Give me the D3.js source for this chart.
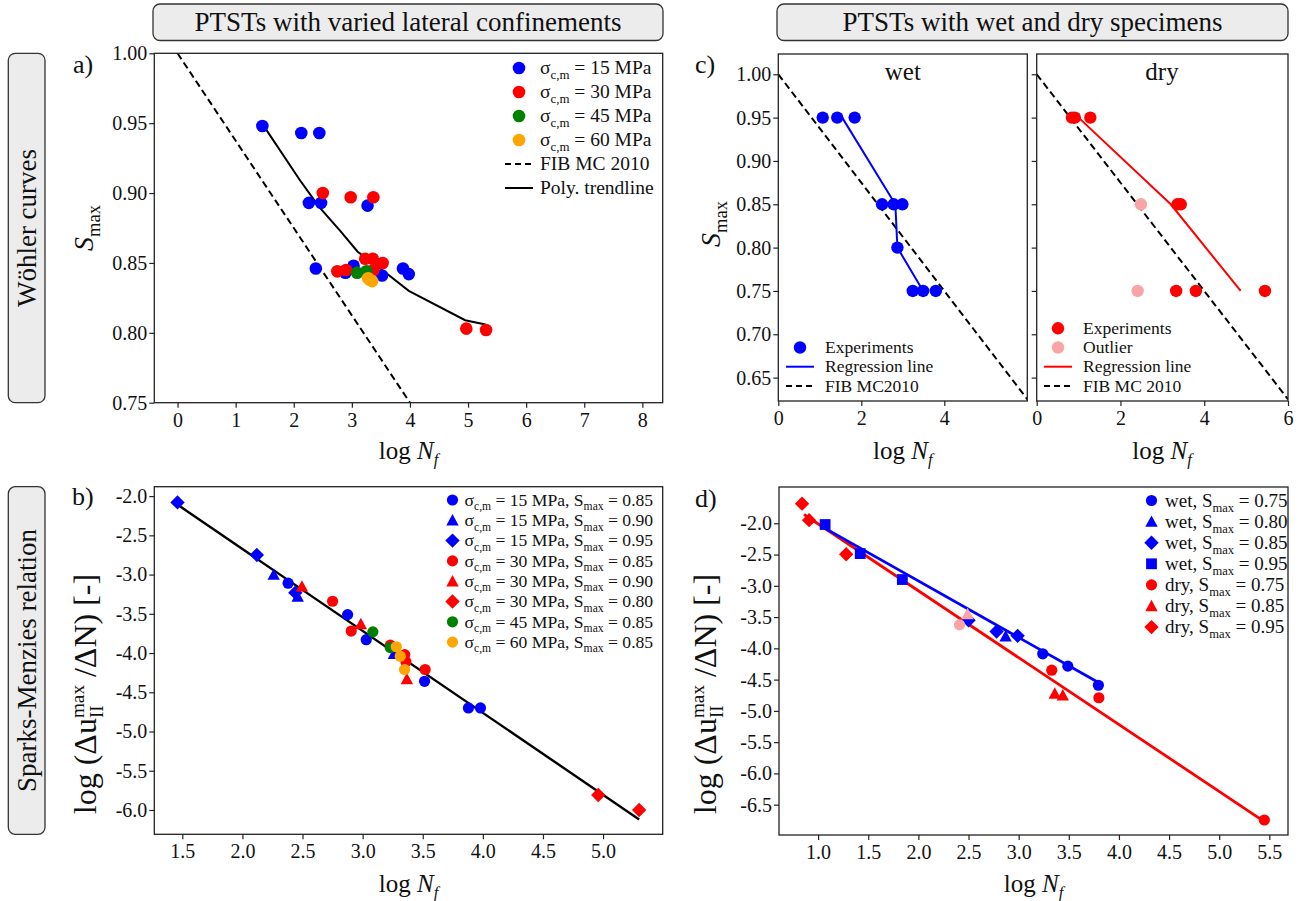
<!DOCTYPE html>
<html><head><meta charset="utf-8">
<script src="https://cdn.jsdelivr.net/npm/d3@7"></script>
<style>
html,body{margin:0;padding:0;background:#fff;}
svg{display:block;font-family:"Liberation Serif","Times New Roman",serif;}
text{white-space:pre;}
</style></head><body>
<svg id="fig" width="1301" height="901"></svg>
<script>
// ---------------- data ----------------
// (a) Wöhler curves, PTSTs with varied lateral confinement sigma_c,m
const a15LogN = [1.46, 2.13, 2.44, 2.26, 2.47, 3.27, 2.38, 2.89, 3.03, 3.52, 3.88, 3.98];
const a15S    = [0.948, 0.943, 0.943, 0.893, 0.893, 0.891, 0.846, 0.843, 0.848, 0.841, 0.846, 0.842];
const a30LogN = [2.50, 2.98, 3.37, 2.75, 2.90, 3.23, 3.36, 3.37, 3.53, 4.97, 5.31];
const a30S    = [0.900, 0.897, 0.897, 0.844, 0.845, 0.853, 0.853, 0.845, 0.850, 0.803, 0.802];
const a45LogN = [3.09, 3.25];
const a45S    = [0.843, 0.844];
const a60LogN = [3.28, 3.31, 3.35];
const a60S    = [0.839, 0.838, 0.837];
const trendLogN = [1.50, 2.11, 2.44, 2.80, 3.10, 3.43, 3.98, 4.95, 5.30];
const trendS    = [0.947, 0.909, 0.890, 0.873, 0.858, 0.848, 0.830, 0.809, 0.806];
const fibLogN = [0, 6];
const fibS    = [1.0, 0.625];

// (b) Sparks-Menzies relation, log(du/dN) vs log Nf
const b15s85N = [2.38, 2.875, 3.03, 3.515, 3.88, 3.98];
const b15s85R = [-3.11, -3.51, -3.83, -4.36, -4.70, -4.70];
const b15s90N = [2.26, 2.46, 3.26];
const b15s90R = [-3.00, -3.28, -4.01];
const b15s95N = [1.46, 2.12, 2.44];
const b15s95R = [-2.08, -2.75, -3.23];
const b30s85N = [2.75, 2.905, 3.23, 3.35, 3.36, 3.52];
const b30s85R = [-3.34, -3.72, -3.90, -4.02, -4.11, -4.21];
const b30s90N = [2.495, 2.985, 3.368];
const b30s90R = [-3.15, -3.63, -4.33];
const b30s80N = [4.96, 5.30];
const b30s80R = [-5.81, -6.00];
const b45s85N = [3.085, 3.23];
const b45s85R = [-3.73, -3.93];
const b60s85N = [3.28, 3.313, 3.349];
const b60s85R = [-3.92, -4.04, -4.21];
const bFitN = [1.48, 5.30];
const bFitR = [-2.13, -6.12];

// (c, d) wet and dry specimens
const wetS    = [0.95, 0.95, 0.95, 0.85, 0.85, 0.85, 0.80, 0.75, 0.75, 0.75];
const wetLogN = [1.07, 1.42, 1.84, 2.50, 2.78, 2.99, 2.87, 3.24, 3.49, 3.795];
const wetRate = [-2.02, -2.485, -2.90, -3.55, -3.73, -3.80, -3.805, -4.087, -4.285, -4.59];
const dryS    = [0.95, 0.95, 0.95, 0.85, 0.85, 0.75, 0.75, 0.75];
const dryLogN = [0.84, 0.91, 1.28, 3.36, 3.44, 3.33, 3.80, 5.45];
const dryRate = [-1.686, -1.95, -2.495, -4.72, -4.75, -4.35, -4.79, -6.745];
const outS    = [0.85, 0.75];
const outLogN = [2.49, 2.41];
const outRate = [-3.45, -3.624];
const wetRegLogN = [1.54, 2.82, 2.87, 3.49];
const wetRegS    = [0.95, 0.85, 0.80, 0.75];
const dryRegLogN = [1.00, 3.20, 4.87];
const dryRegS    = [0.95, 0.85, 0.75];
const wetFitN = [1.08, 3.80];
const wetFitR = [-2.09, -4.55];
const dryFitN = [0.86, 5.45];
const dryFitR = [-1.86, -6.77];

// marker shape per stress level in (d)
const shapeWet = {0.75: 'o', 0.80: '^', 0.85: 'D', 0.95: 's'};
const shapeDry = {0.75: 'o', 0.85: '^', 0.95: 'D'};

// tick values
const ticksA_x = [0, 1, 2, 3, 4, 5, 6, 7, 8];
const ticksA_y = [0.75, 0.80, 0.85, 0.90, 0.95, 1.00];
const ticksB_x = [1.5, 2.0, 2.5, 3.0, 3.5, 4.0, 4.5, 5.0];
const ticksB_y = [-2.0, -2.5, -3.0, -3.5, -4.0, -4.5, -5.0, -5.5, -6.0];
const ticksC_y = [0.65, 0.70, 0.75, 0.80, 0.85, 0.90, 0.95, 1.00];
const ticksCw_x = [0, 2, 4];
const ticksCd_x = [0, 2, 4, 6];
const ticksD_x = [1.0, 1.5, 2.0, 2.5, 3.0, 3.5, 4.0, 4.5, 5.0, 5.5];
const ticksD_y = [-2.0, -2.5, -3.0, -3.5, -4.0, -4.5, -5.0, -5.5, -6.0, -6.5];

const BLUE = '#0000ff', RED = '#ff0000', GREEN = '#008000', ORANGE = '#ffa500', PINK = '#f9a5a5';

// ---------------- drawing helpers ----------------
const svg = d3.select('#fig');
const defs = svg.append('defs');
const INK = '#222';
const fmt = (n) => (v) => d3.format('.' + n + 'f')(v).replace('−', '-');
let clipCount = 0;

function makePanel(box, xDom, yDom) {
  const x = d3.scaleLinear().domain(xDom).range([box.l, box.r]);
  const y = d3.scaleLinear().domain(yDom).range([box.b, box.t]);
  const id = 'clip' + (clipCount++);
  defs.append('clipPath').attr('id', id).append('rect')
    .attr('x', box.l).attr('y', box.t).attr('width', box.r - box.l).attr('height', box.b - box.t);
  const g = svg.append('g');
  const lines = g.append('g').attr('clip-path', `url(#${id})`);
  const marks = g.append('g');
  return {box, x, y, g, lines, marks};
}

function styleAxis(sel) {
  sel.attr('font-family', null).attr('font-size', 20);
  sel.select('.domain').remove();
  sel.selectAll('line').attr('stroke', INK).attr('stroke-width', 1.2);
  sel.selectAll('text').attr('fill', '#111');
}

function xAxis(p, ticks, f) {
  const ax = d3.axisBottom(p.x).tickValues(ticks).tickFormat(f).tickSizeInner(5).tickSizeOuter(0).tickPadding(5);
  p.g.append('g').attr('transform', `translate(0,${p.box.b})`).call(ax).call(styleAxis);
}
function yAxis(p, ticks, f) {
  const ax = d3.axisLeft(p.y).tickValues(ticks).tickFormat(f).tickSizeInner(5).tickSizeOuter(0).tickPadding(2);
  p.g.append('g').attr('transform', `translate(${p.box.l},0)`).call(ax).call(styleAxis);
}
function frame(p) {
  p.g.append('rect').attr('x', p.box.l).attr('y', p.box.t)
    .attr('width', p.box.r - p.box.l).attr('height', p.box.b - p.box.t)
    .attr('fill', 'none').attr('stroke', INK).attr('stroke-width', 1.3);
}

function markerPath(shape, s) {
  const pth = d3.path();
  if (shape === 'o') { pth.arc(0, 0, s, 0, 2 * Math.PI); pth.closePath(); }
  else if (shape === '^') { pth.moveTo(0, -s); pth.lineTo(s, s * 0.85); pth.lineTo(-s, s * 0.85); pth.closePath(); }
  else if (shape === 'D') { pth.moveTo(0, -s); pth.lineTo(s, 0); pth.lineTo(0, s); pth.lineTo(-s, 0); pth.closePath(); }
  else if (shape === 's') { pth.rect(-s, -s, 2 * s, 2 * s); }
  return pth.toString();
}
const SIZE = {o: 5.6, '^': 6.2, D: 7.2, s: 5.4};

function scatter(p, xs, ys, shape, color, size) {
  p.marks.selectAll(null).data(d3.zip(xs, ys)).join('path')
    .attr('d', markerPath(shape, size || SIZE[shape]))
    .attr('transform', d => `translate(${p.x(d[0])},${p.y(d[1])})`)
    .attr('fill', color);
}
function scatterShaped(p, xs, ys, keys, shapeMap, color) {
  d3.zip(xs, ys, keys).forEach(d => {
    const sh = shapeMap[d[2].toFixed(2)] || shapeMap[d[2]];
    p.marks.append('path').attr('d', markerPath(sh, SIZE[sh]))
      .attr('transform', `translate(${p.x(d[0])},${p.y(d[1])})`).attr('fill', color);
  });
}
function polyline(p, xs, ys, color, width, dash) {
  p.lines.append('path').datum(d3.zip(xs, ys))
    .attr('d', d3.line().x(d => p.x(d[0])).y(d => p.y(d[1])))
    .attr('fill', 'none').attr('stroke', color).attr('stroke-width', width)
    .attr('stroke-dasharray', dash || null);
}

// text with sub/superscripts built from tspans
function rich(t, segs, base) {
  let cur = 0;
  segs.forEach(s => {
    const sz = s.sh ? base * 0.66 : base;
    const off = s.sh === 'sub' ? base * 0.25 : s.sh === 'sup' ? -base * 0.38 : 0;
    const ts = t.append('tspan').text(s.t).attr('font-size', sz);
    if (off - cur !== 0) ts.attr('dy', off - cur);
    if (s.it) ts.attr('font-style', 'italic');
    cur = off;
  });
  return t;
}
function label(x, y, segs, size, anchor, rotate) {
  const t = svg.append('text')
    .attr('transform', `translate(${x},${y})` + (rotate ? ' rotate(-90)' : ''))
    .attr('text-anchor', anchor || 'middle').attr('font-size', size).attr('fill', '#111');
  return rich(t, segs, size);
}
const logNf = [{t: 'log '}, {t: 'N', it: true}, {t: 'f', it: true, sh: 'sub'}];
const Smax = [{t: 'S', it: true}, {t: 'max', sh: 'sub'}];

function rateLabel(x, y, size) {
  const t = svg.append('text').attr('transform', `translate(${x},${y}) rotate(-90)`)
    .attr('text-anchor', 'middle').attr('font-size', size).attr('fill', '#111');
  t.append('tspan').text('log (Δu');
  const sup = t.append('tspan').text('max').attr('font-size', size * 0.6).attr('dy', -size * 0.36);
  const sub = t.append('tspan').text('II').attr('font-size', size * 0.6).attr('dy', size * 0.58);
  const rest = t.append('tspan').text(' /ΔN) [-]').attr('dy', -size * 0.22);
  const wMax = sup.node().getComputedTextLength();
  const wII = sub.node().getComputedTextLength();
  sub.attr('dx', -wMax);
  rest.attr('dx', wMax - wII);
}

function legend(items, mx, tx, y0, dy, size) {
  items.forEach((it, i) => {
    const cy = y0 + i * dy;
    if (it.shape) {
      svg.append('path').attr('d', markerPath(it.shape, it.r || SIZE[it.shape]))
        .attr('transform', `translate(${mx},${cy})`).attr('fill', it.color);
    } else {
      svg.append('line').attr('x1', mx - 14).attr('x2', mx + 14).attr('y1', cy).attr('y2', cy)
        .attr('stroke', it.color).attr('stroke-width', it.w || 2).attr('stroke-dasharray', it.dash || null);
    }
    const t = svg.append('text').attr('x', tx).attr('y', cy + size * 0.33)
      .attr('font-size', size).attr('fill', '#111');
    rich(t, it.segs, size);
  });
}

function roundedBox(x, y, w, h, txt, size, vertical) {
  svg.append('rect').attr('x', x).attr('y', y).attr('width', w).attr('height', h)
    .attr('rx', 7).attr('fill', '#ececec').attr('stroke', '#333').attr('stroke-width', 1.3);
  const cx = x + w / 2, cy = y + h / 2;
  svg.append('text').attr('transform', `translate(${cx},${cy}) ` + (vertical ? 'rotate(-90)' : ''))
    .attr('text-anchor', 'middle').attr('dy', '0.34em').attr('font-size', size).attr('fill', '#111').text(txt);
}

// ---------------- headers ----------------
roundedBox(153, 4, 510, 36.5, 'PTSTs with varied lateral confinements', 27);
roundedBox(777, 4, 511, 36.5, 'PTSTs with wet and dry specimens', 27);
roundedBox(8.3, 53.3, 36.7, 349.4, 'Wöhler curves', 27, true);
roundedBox(8.3, 486.7, 36.7, 347.6, 'Sparks-Menzies relation', 27, true);

// ---------------- (a) ----------------
const pa = makePanel({l: 154.3, r: 662.7, t: 53.3, b: 402.7}, [-0.4, 8.35], [0.75, 1.0]);
polyline(pa, fibLogN, fibS, '#000', 2, '7,4');
polyline(pa, trendLogN, trendS, '#000', 2);
scatter(pa, a15LogN, a15S, 'o', BLUE, 6.3);
scatter(pa, a30LogN, a30S, 'o', RED, 6.3);
scatter(pa, a45LogN, a45S, 'o', GREEN, 6.3);
scatter(pa, a60LogN, a60S, 'o', ORANGE, 6.3);
xAxis(pa, ticksA_x, d3.format('d'));
yAxis(pa, ticksA_y, fmt(2));
frame(pa);
const sigma = (v) => [{t: 'σ'}, {t: 'c,m', sh: 'sub'}, {t: ` = ${v} MPa`}];
legend([
  {shape: 'o', color: BLUE, r: 6.3, segs: sigma(15)},
  {shape: 'o', color: RED, r: 6.3, segs: sigma(30)},
  {shape: 'o', color: GREEN, r: 6.3, segs: sigma(45)},
  {shape: 'o', color: ORANGE, r: 6.3, segs: sigma(60)},
  {color: '#000', dash: '6,4', segs: [{t: 'FIB MC 2010'}]},
  {color: '#000', segs: [{t: 'Poly. trendline'}]}
], 519, 540, 68, 24, 19.5);
label(93, 228, Smax, 28, 'middle', true);
label(408.5, 459, logNf, 25);
label(73, 73, [{t: 'a)'}], 26, 'start');

// ---------------- (b) ----------------
const pb = makePanel({l: 154.3, r: 662.7, t: 486.7, b: 834.3}, [1.267, 5.496], [-6.31, -1.88]);
polyline(pb, bFitN, bFitR, '#000', 2.4);
scatter(pb, b15s85N, b15s85R, 'o', BLUE);
scatter(pb, b15s90N, b15s90R, '^', BLUE);
scatter(pb, b15s95N, b15s95R, 'D', BLUE);
scatter(pb, b30s85N, b30s85R, 'o', RED);
scatter(pb, b30s90N, b30s90R, '^', RED);
scatter(pb, b30s80N, b30s80R, 'D', RED);
scatter(pb, b45s85N, b45s85R, 'o', GREEN);
scatter(pb, b60s85N, b60s85R, 'o', ORANGE);
xAxis(pb, ticksB_x, fmt(1));
yAxis(pb, ticksB_y, fmt(1));
frame(pb);
const sigS = (v, s) => [{t: 'σ'}, {t: 'c,m', sh: 'sub'}, {t: ` = ${v} MPa, S`}, {t: 'max', sh: 'sub'}, {t: ` = ${s}`}];
legend([
  {shape: 'o', color: BLUE, segs: sigS(15, '0.85')},
  {shape: '^', color: BLUE, segs: sigS(15, '0.90')},
  {shape: 'D', color: BLUE, segs: sigS(15, '0.95')},
  {shape: 'o', color: RED, segs: sigS(30, '0.85')},
  {shape: '^', color: RED, segs: sigS(30, '0.90')},
  {shape: 'D', color: RED, segs: sigS(30, '0.80')},
  {shape: 'o', color: GREEN, segs: sigS(45, '0.85')},
  {shape: 'o', color: ORANGE, segs: sigS(60, '0.85')}
], 452.5, 464.5, 500, 20.3, 17.6);
rateLabel(96, 694, 32);
label(408.5, 892, logNf, 25);
label(72, 505, [{t: 'b)'}], 26, 'start');

// ---------------- (c) ----------------
const cDomY = [0.623, 1.0234];
const pcw = makePanel({l: 778.3, r: 1027.3, t: 54, b: 401}, [0, 6], cDomY);
polyline(pcw, fibLogN, fibS, '#000', 2, '7,4');
polyline(pcw, wetRegLogN, wetRegS, BLUE, 2);
scatter(pcw, wetLogN, wetS, 'o', BLUE, 6.2);
xAxis(pcw, ticksCw_x, d3.format('d'));
yAxis(pcw, ticksC_y, fmt(2));
frame(pcw);

const pcd = makePanel({l: 1036.7, r: 1288, t: 54, b: 401}, [0, 6], cDomY);
polyline(pcd, fibLogN, fibS, '#000', 2, '7,4');
polyline(pcd, dryRegLogN, dryRegS, RED, 2);
scatter(pcd, outLogN, outS, 'o', PINK, 6.2);
scatter(pcd, dryLogN, dryS, 'o', RED, 6.2);
xAxis(pcd, ticksCd_x, d3.format('d'));
yAxis(pcd, ticksC_y, () => '');
frame(pcd);

svg.append('text').attr('x', 902.8).attr('y', 80).attr('text-anchor', 'middle').attr('font-size', 25).attr('fill', '#111').text('wet');
svg.append('text').attr('x', 1162).attr('y', 80).attr('text-anchor', 'middle').attr('font-size', 25).attr('fill', '#111').text('dry');
legend([
  {shape: 'o', color: BLUE, r: 6.2, segs: [{t: 'Experiments'}]},
  {color: BLUE, segs: [{t: 'Regression line'}]},
  {color: '#000', dash: '6,4', segs: [{t: 'FIB MC2010'}]}
], 800, 825, 347.5, 19.2, 17.5);
legend([
  {shape: 'o', color: RED, r: 6.2, segs: [{t: 'Experiments'}]},
  {shape: 'o', color: PINK, r: 6.2, segs: [{t: 'Outlier'}]},
  {color: RED, segs: [{t: 'Regression line'}]},
  {color: '#000', dash: '6,4', segs: [{t: 'FIB MC 2010'}]}
], 1058, 1083, 328.3, 19.2, 17.5);
label(720, 224, Smax, 28, 'middle', true);
label(902.8, 459, logNf, 25);
label(1162, 459, logNf, 25);
label(695, 73, [{t: 'c)'}], 26, 'start');

// ---------------- (d) ----------------
const pd = makePanel({l: 779, r: 1288, t: 487, b: 835}, [0.61, 5.686], [-6.985, -1.42]);
polyline(pd, dryFitN, dryFitR, RED, 2.8);
polyline(pd, wetFitN, wetFitR, BLUE, 2.8);
scatterShaped(pd, dryLogN, dryRate, dryS, shapeDry, RED);
scatterShaped(pd, wetLogN, wetRate, wetS, shapeWet, BLUE);
scatterShaped(pd, outLogN, outRate, outS, shapeDry, PINK);
xAxis(pd, ticksD_x, fmt(1));
yAxis(pd, ticksD_y, fmt(1));
frame(pd);
const wd = (w, s) => [{t: `${w}, S`}, {t: 'max', sh: 'sub'}, {t: ` = ${s}`}];
legend([
  {shape: 'o', color: BLUE, segs: wd('wet', '0.75')},
  {shape: '^', color: BLUE, segs: wd('wet', '0.80')},
  {shape: 'D', color: BLUE, segs: wd('wet', '0.85')},
  {shape: 's', color: BLUE, segs: wd('wet', '0.95')},
  {shape: 'o', color: RED, segs: wd('dry', '0.75')},
  {shape: '^', color: RED, segs: wd('dry', '0.85')},
  {shape: 'D', color: RED, segs: wd('dry', '0.95')}
], 1151.5, 1165, 500.5, 21.1, 19);
rateLabel(716, 694, 32);
label(1033.5, 892, logNf, 25);
label(695, 507, [{t: 'd)'}], 26, 'start');
</script></body></html>
